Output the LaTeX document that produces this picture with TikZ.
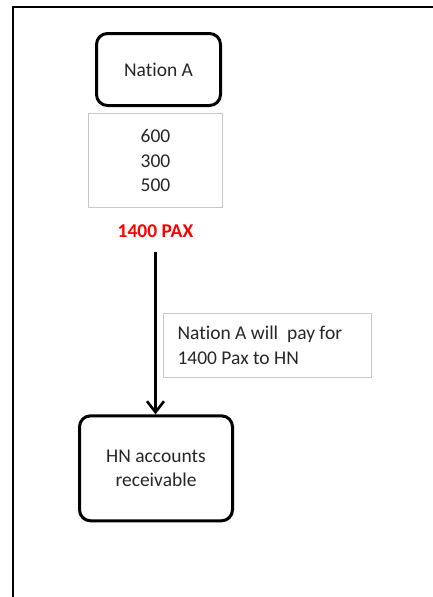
\documentclass[tikz,border=0pt]{standalone}
\usepackage{fontspec}
\setmainfont{Carlito}[Ligatures=NoCommon]
\usepackage{tikz}
\usetikzlibrary{positioning}
\usetikzlibrary{arrows.meta}

\begin{document}
\begin{tikzpicture}[
  x=1pt, y=1pt,
  font=\fontsize{19.5}{24.5}\selectfont,
  party/.style={draw, line width=3pt, rounded corners=11pt, align=center, text=black!85},
  plain/.style={draw=black!22, line width=1pt, text=black!85},
  arrow/.style={-{Straight Barb[length=11pt, width=17pt]}, line width=2.6pt}
]
\useasboundingbox (0,0) rectangle (433,-597);

% frame
\draw[line width=2pt] (433,-7) -- (13,-7) -- (13,-597);

\node[party, minimum width=124pt, minimum height=72pt] (nation) at (158.5,-69.5) {Nation A};

\node[plain, align=center, minimum width=134pt, minimum height=94pt, below=6pt of nation, xshift=-3pt] (counts) {600\\300\\500};

\node[below=17pt of counts, inner sep=0pt, text=red, font=\fontsize{19.5}{24.5}\selectfont\bfseries] (pax) {1400 PAX};

\node[party, minimum width=153pt, minimum height=105pt, below=176pt of pax, xshift=0.5pt] (hn) {HN accounts\\receivable};

\node[plain, align=flush left, inner xsep=14pt, text width=180pt, minimum height=64pt] (note) at (267.5,-345.5) {Nation A will\ \ pay for\\1400 Pax to HN};

\draw[arrow, shorten <=14pt] (pax.south) -- (pax.south |- hn.north);

\end{tikzpicture}
\end{document}
